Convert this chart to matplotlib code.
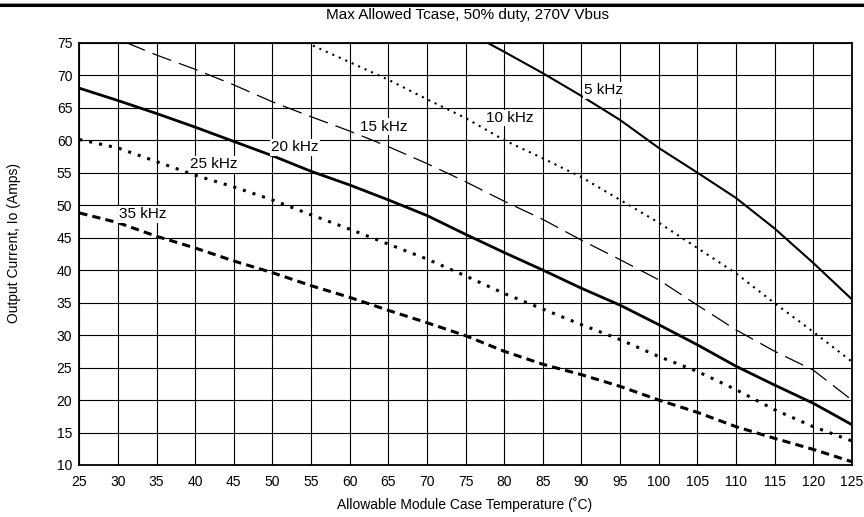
import matplotlib
matplotlib.use("Agg")
import matplotlib.pyplot as plt
from matplotlib.lines import Line2D

plt.rcParams['font.family'] = ['Liberation Sans', 'DejaVu Sans']

# Datos (temperatura de carcasa en °C, corriente en A)
t_5k = [77.8, 80, 85, 90, 95, 100, 105, 110, 115, 120, 125]
i_5k = [75.0, 73.6, 70.3, 66.8, 63.1, 58.8, 55.0, 51.1, 46.4, 41.1, 35.5]

t_10k = [54.4, 60, 65, 70, 75, 80, 85, 90, 95, 100, 105, 110, 115, 120, 125]
i_10k = [75.0, 72.0, 69.3, 66.3, 63.4, 60.0, 57.2, 54.3, 50.8, 47.3, 43.4, 39.5, 34.9, 30.5, 25.9]

t_15k = [31.1, 35, 40, 45, 50, 55, 60, 65, 70, 75, 80, 85, 90, 95, 100, 105, 110, 115, 120, 125]
i_15k = [75.0, 73.1, 70.9, 68.5, 65.9, 63.6, 61.4, 59.0, 56.4, 53.6, 50.6, 47.8, 44.6, 41.6, 38.5,
         34.6, 30.8, 27.5, 24.6, 20.0]

t_full = [25, 30, 35, 40, 45, 50, 55, 60, 65, 70, 75, 80, 85, 90, 95, 100, 105, 110, 115, 120, 125]
i_20k = [68.0, 66.1, 64.1, 62.0, 59.8, 57.6, 55.2, 53.1, 50.8, 48.4, 45.5, 42.7, 40.0, 37.2, 34.6,
         31.6, 28.5, 25.2, 22.3, 19.5, 16.2]
i_25k = [60.1, 58.8, 56.7, 54.6, 52.8, 50.8, 48.5, 46.3, 44.0, 41.7, 39.1, 36.4, 34.0, 31.6, 29.3,
         26.7, 24.4, 21.6, 18.5, 15.9, 13.7]
i_35k = [48.8, 47.3, 45.2, 43.4, 41.4, 39.6, 37.6, 35.8, 33.8, 31.9, 29.9, 27.5, 25.5, 23.9, 22.1,
         20.0, 18.1, 15.9, 14.1, 12.4, 10.5]

labels = ['5 kHz', '10 kHz', '15 kHz', '20 kHz', '25 kHz', '35 kHz']
label_t = [92.9, 80.7, 64.4, 52.9, 42.4, 33.2]
label_i = [67.7, 63.4, 62.1, 58.9, 56.3, 48.6]

x_ticks = list(range(25, 126, 5))
y_ticks = list(range(10, 76, 5))

fig = plt.figure(figsize=(8.64, 5.17), dpi=100)
ax = fig.add_axes([0.0918, 0.1006, 0.8942, 0.8168])

# Curvas
ax.plot(t_5k, i_5k, color='black', lw=1.5, solid_capstyle='butt')
ax.plot(t_10k, i_10k, color='black', lw=1.5, linestyle=(0, (1, 2.4)), dash_capstyle='butt')
ax.plot(t_15k, i_15k, color='black', lw=0.9, linestyle=(0, (16, 6.5)), dash_capstyle='butt')
ax.plot(t_full, i_20k, color='black', lw=2.0, solid_capstyle='butt')
ax.plot(t_full, i_25k, color='black', lw=2.2, linestyle=(0, (1, 2.3)), dash_capstyle='butt')
ax.plot(t_full, i_35k, color='black', lw=2.2, linestyle=(0, (2.7, 1.7)), dash_capstyle='butt')

# Etiquetas de frecuencia con fondo blanco
for txt, tx, ty in zip(labels, label_t, label_i):
    ax.text(tx, ty, txt, fontsize=11, ha='center', va='center', zorder=5,
            bbox=dict(facecolor='white', edgecolor='none', pad=1.0))

ax.set_xlim(25, 125)
ax.set_ylim(10, 75)
ax.set_xticks(x_ticks)
ax.set_yticks(y_ticks)
ax.tick_params(length=0, labelsize=10)
ax.tick_params(axis='x', pad=7)
ax.tick_params(axis='y', pad=5)
ax.grid(True, color='black', lw=0.8)
ax.set_axisbelow(True)
for s in ax.spines.values():
    s.set_linewidth(1.3)

fig.text(468 / 864, 1 - 15 / 517, 'Max Allowed Tcase, 50% duty, 270V Vbus',
         fontsize=11, ha='center', va='center')
fig.text(465 / 864, 1 - 505 / 517, 'Allowable Module Case Temperature (˚C)',
         fontsize=10, ha='center', va='center')
fig.text(14 / 864, 1 - 243 / 517, 'Output Current, Io (Amps)',
         fontsize=10, ha='center', va='center', rotation=90)

# Barra superior
fig.add_artist(Line2D([0, 1], [1 - 3 / 517, 1 - 3 / 517], color='#999999', lw=0.8,
                      transform=fig.transFigure))
fig.add_artist(Line2D([0, 1], [1 - 5 / 517, 1 - 5 / 517], color='black', lw=2.2,
                      transform=fig.transFigure))

fig.savefig('out.png', dpi=100)
